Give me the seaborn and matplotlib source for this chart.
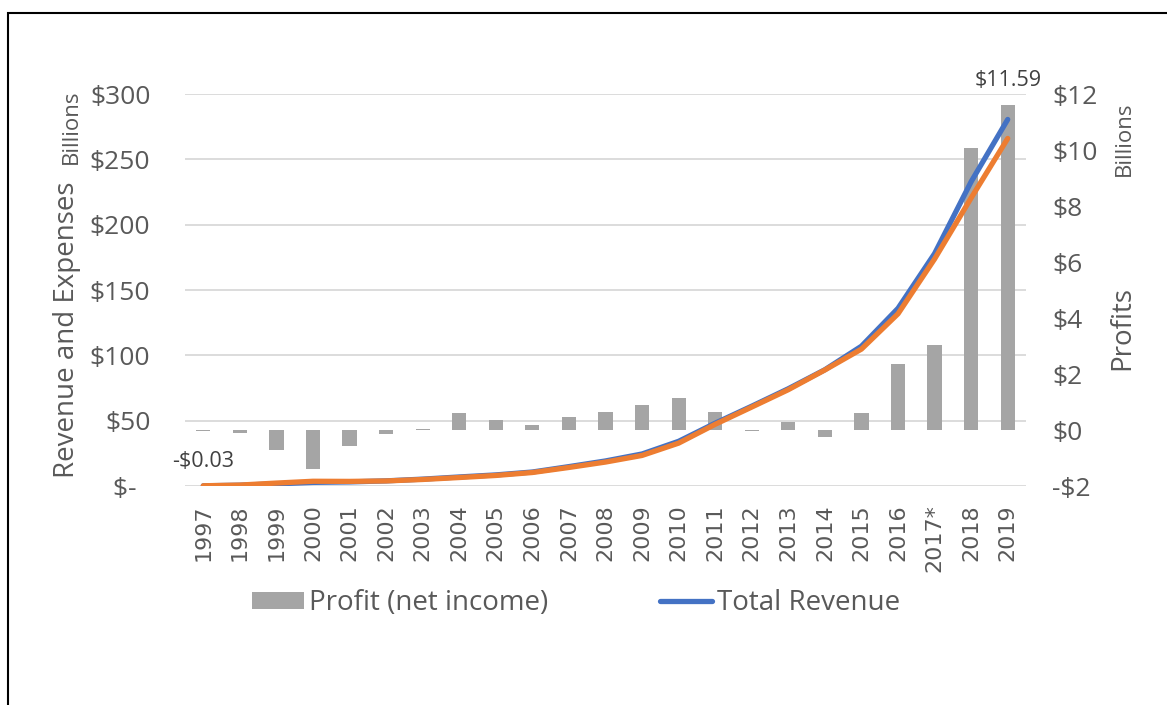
import matplotlib
matplotlib.use("Agg")
import matplotlib.pyplot as plt
from matplotlib.patches import Rectangle
from matplotlib.ticker import FixedLocator, FuncFormatter
import numpy as np
import pandas as pd
import seaborn as sns

# ---- data (US$ billions) ----
years = ["1997", "1998", "1999", "2000", "2001", "2002", "2003", "2004", "2005",
         "2006", "2007", "2008", "2009", "2010", "2011", "2012", "2013", "2014",
         "2015", "2016", "2017*", "2018", "2019"]
profit = [-0.03, -0.12, -0.72, -1.41, -0.57, -0.15, 0.04, 0.59, 0.36, 0.19, 0.48,
          0.65, 0.90, 1.15, 0.63, -0.04, 0.27, -0.24, 0.60, 2.37, 3.03, 10.07, 11.59]
revenue = [0.15, 0.61, 1.64, 2.76, 3.12, 3.93, 5.26, 6.92, 8.49, 10.71, 14.84,
           19.17, 24.51, 34.20, 48.08, 61.09, 74.45, 88.99, 107.01, 135.99,
           177.87, 232.89, 280.52]
expenses = [0.18, 0.72, 2.25, 3.63, 3.53, 3.87, 4.99, 6.48, 8.06, 10.32, 14.18,
            18.32, 23.38, 32.80, 47.22, 60.42, 73.71, 88.81, 104.77, 131.80,
            173.76, 220.47, 265.98]
left_ticks = [0, 50, 100, 150, 200, 250, 300]
right_ticks = [-2, 0, 2, 4, 6, 8, 10, 12]

GREY_TXT = "#595959"
sns.set_theme(style="white")
plt.rcParams["font.family"] = ["Open Sans", "DejaVu Sans"]

df = pd.DataFrame({"year": years, "pos": np.arange(len(years)),
                   "profit": profit, "revenue": revenue, "expenses": expenses})

fig = plt.figure(figsize=(11.67, 7.05), dpi=100)
ax = fig.add_axes([185 / 1167, 219 / 705, (1026 - 185) / 1167, 392 / 705])
ax2 = ax.twinx()
ax3 = ax.twinx()

# bars (right axis)
sns.barplot(data=df, x="year", y="profit", ax=ax2, color="#A5A5A5",
            saturation=1, width=0.39, edgecolor="none", linewidth=0)
# lines (left scale)
sns.lineplot(data=df, x="pos", y="revenue", ax=ax3, color="#4472C4", lw=3.8,
             solid_capstyle="round", legend=False)
sns.lineplot(data=df, x="pos", y="expenses", ax=ax3, color="#ED7D31", lw=3.8,
             solid_capstyle="round", legend=False)
for a in (ax2, ax3):
    if a.get_legend() is not None:
        a.get_legend().remove()

n = len(years)
for a in (ax, ax2, ax3):
    a.set_xlim(-0.5, n - 0.5)
    for s in a.spines.values():
        s.set_visible(False)

ax.set_ylim(0, 300)
ax3.set_ylim(0, 300)
ax2.set_ylim(-2, 12)

ax.yaxis.set_major_locator(FixedLocator(left_ticks))
ax.yaxis.set_major_formatter(FuncFormatter(lambda v, p: "$-  " if v == 0 else f"${v:.0f}"))
ax.grid(axis="y", color="#D9D9D9", lw=1.3)
ax.grid(axis="x", visible=False)
ax.tick_params(axis="y", length=0, pad=25, labelsize=19, labelcolor=GREY_TXT)

ax2.yaxis.set_major_locator(FixedLocator(right_ticks))
ax2.yaxis.set_major_formatter(FuncFormatter(lambda v, p: f"-${-v:.0f}" if v < 0 else f"${v:.0f}"))
ax2.tick_params(axis="y", length=0, pad=19, labelsize=19, labelcolor=GREY_TXT)
ax2.grid(False)
ax2.set_ylabel("")
ax2.set_xlabel("")

ax3.set_yticks([])
ax3.set_ylabel("")
ax3.set_xlabel("")
ax3.grid(False)

ax.set_xticks(np.arange(n))
ax.set_xticklabels(years, rotation=90, fontfamily="DejaVu Sans", fontsize=16,
                   color=GREY_TXT)
ax.tick_params(axis="x", length=0, pad=13)
ax.set_xlabel("")
ax.set_ylabel("")

# data labels
ax2.annotate(f"-${abs(profit[0]):.2f}", xy=(0, profit[0]), xytext=(0, -22),
             textcoords="offset points", ha="center", va="center",
             fontsize=15.5, color="#404040")
ax2.annotate(f"${profit[-1]:.2f}", xy=(n - 1, profit[-1]), xytext=(0, 18),
             textcoords="offset points", ha="center", va="center",
             fontsize=15.5, color="#404040")

# axis titles and display-unit labels
fig.text(67 / 1167, 1 - 330 / 705, "Revenue and Expenses", rotation=90,
         ha="center", va="center", fontsize=20, color=GREY_TXT)
fig.text(71 / 1167, 1 - 127 / 705, "Billions", rotation=90,
         ha="center", va="center", fontsize=16, color=GREY_TXT)
fig.text(1124 / 1167, 1 - 139 / 705, "Billions", rotation=90,
         ha="center", va="center", fontsize=16, color=GREY_TXT)
fig.text(1122 / 1167, 1 - 328 / 705, "Profits", rotation=90,
         ha="center", va="center", fontsize=20, color=GREY_TXT)

# legend
bar_handle = ax2.containers[0]
line_handle = ax3.get_lines()[0]
fig.legend([bar_handle, line_handle], ["Profit (net income)", "Total Revenue"],
           loc="center", bbox_to_anchor=(576 / 1167, 1 - 603 / 705), ncol=2,
           frameon=False, fontsize=20, labelcolor=GREY_TXT, handlelength=1.87,
           handleheight=0.55, handletextpad=0.18, columnspacing=4.0)

# outer border
fig.add_artist(Rectangle((8 / 1167, -0.1), 1.2, (1 - 13 / 705) + 0.1,
                         transform=fig.transFigure, fill=False,
                         edgecolor="black", lw=1.5, clip_on=False))

fig.savefig("out.png", dpi=100)
